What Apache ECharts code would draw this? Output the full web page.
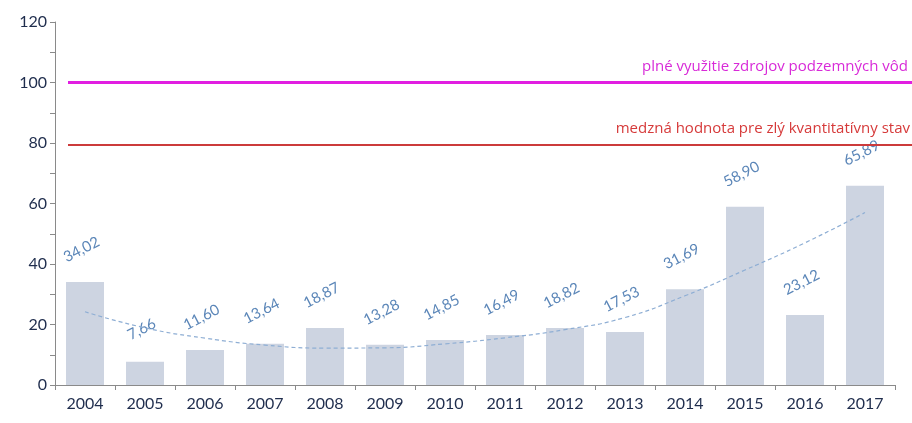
<!DOCTYPE html>
<html>
	<head>
		<meta charset="UTF-8">
		<title></title>
		<script src="https://cdn.jsdelivr.net/npm/echarts@6/dist/echarts.min.js"></script>
		<style>
			html, body { margin: 0; padding: 0; background: #fff; }
			#chart { width: 912px; height: 423px; }
		</style>
	</head>
	<body>
		<div id="chart"></div>
		<script>
			// roky
			var years = ['2004', '2005', '2006', '2007', '2008', '2009', '2010', '2011', '2012', '2013', '2014', '2015', '2016', '2017'];
			// hodnoty stlpcov
			var values = [34.02, 7.66, 11.60, 13.64, 18.87, 13.28, 14.85, 16.49, 18.82, 17.53, 31.69, 58.90, 23.12, 65.89];
			// trend (odcitane z obrazku)
			var trend = [24.2, 18.9, 15.5, 13.2, 12.2, 12.3, 13.6, 15.6, 18.3, 22.3, 29.5, 38.0, 47.0, 57.0];
			// referencne hodnoty
			var fullLevel = 100;
			var limitLevel = 79.5;
			var fullText = 'plné využitie zdrojov podzemných vôd';
			var limitText = 'medzná hodnota pre zlý kvantitatívny stav';

			var font = 'Lato, "Open Sans", sans-serif';
			var myChart = echarts.init(document.getElementById('chart'));

			var option = {
				animation: false,
				textStyle: { fontFamily: font },
				grid: [
					{ left: 55, right: 17, top: 22, bottom: 38 },
					{ left: 68, right: 0, top: 22, bottom: 38 }
				],
				xAxis: [
					{
						type: 'category',
						data: years,
						gridIndex: 0,
						axisLine: { lineStyle: { color: '#8a8a8a', width: 1 } },
						axisTick: { show: true, length: 5, alignWithLabel: false, lineStyle: { color: '#8a8a8a' } },
						axisLabel: { color: '#1f2d4d', fontSize: 16, margin: 11, fontFamily: font }
					},
					{ type: 'value', gridIndex: 1, min: 0, max: 1, show: false }
				],
				yAxis: [
					{
						type: 'value',
						gridIndex: 0,
						min: 0,
						max: 120,
						interval: 20,
						axisLine: { show: true, lineStyle: { color: '#8a8a8a', width: 1 } },
						axisTick: { show: true, length: 5, lineStyle: { color: '#8a8a8a' } },
						minorTick: { show: true, splitNumber: 2, length: 5, lineStyle: { color: '#8a8a8a' } },
						splitLine: { show: false },
						axisLabel: { color: '#1f2d4d', fontSize: 16, margin: 8, fontFamily: font }
					},
					{ type: 'value', gridIndex: 1, min: 0, max: 120, show: false }
				],
				series: [
					{
						type: 'bar',
						data: values,
						barWidth: 38,
						itemStyle: { color: '#cdd4e1' },
						label: {
							show: true,
							position: 'top',
							distance: 26,
							rotate: 27,
							color: '#5b86b8',
							fontSize: 15,
							fontFamily: font,
							formatter: function (p) { return p.value.toFixed(2).replace('.', ','); }
						}
					},
					{
						type: 'line',
						data: trend,
						smooth: true,
						symbol: 'none',
						lineStyle: { color: '#8eaed4', width: 1.2, type: [4, 3] },
						z: 3
					},
					{
						type: 'line',
						xAxisIndex: 1,
						yAxisIndex: 1,
						data: [],
						markLine: {
							silent: true,
							symbol: 'none',
							data: [
								{
									yAxis: fullLevel,
									lineStyle: { color: '#e11ee1', width: 3, type: 'solid' },
									label: {
										show: true, formatter: fullText, position: 'insideEndTop',
										color: '#d82ad8', fontSize: 15, fontFamily: '"Open Sans", sans-serif', distance: [4, 8]
									}
								},
								{
									yAxis: limitLevel,
									lineStyle: { color: '#cc3b3b', width: 2, type: 'solid' },
									label: {
										show: true, formatter: limitText, position: 'insideEndTop',
										color: '#d63a3a', fontSize: 15, fontFamily: '"Open Sans", sans-serif', distance: [2, 8]
									}
								}
							]
						}
					}
				]
			};

			myChart.setOption(option);
		</script>
	</body>
</html>
